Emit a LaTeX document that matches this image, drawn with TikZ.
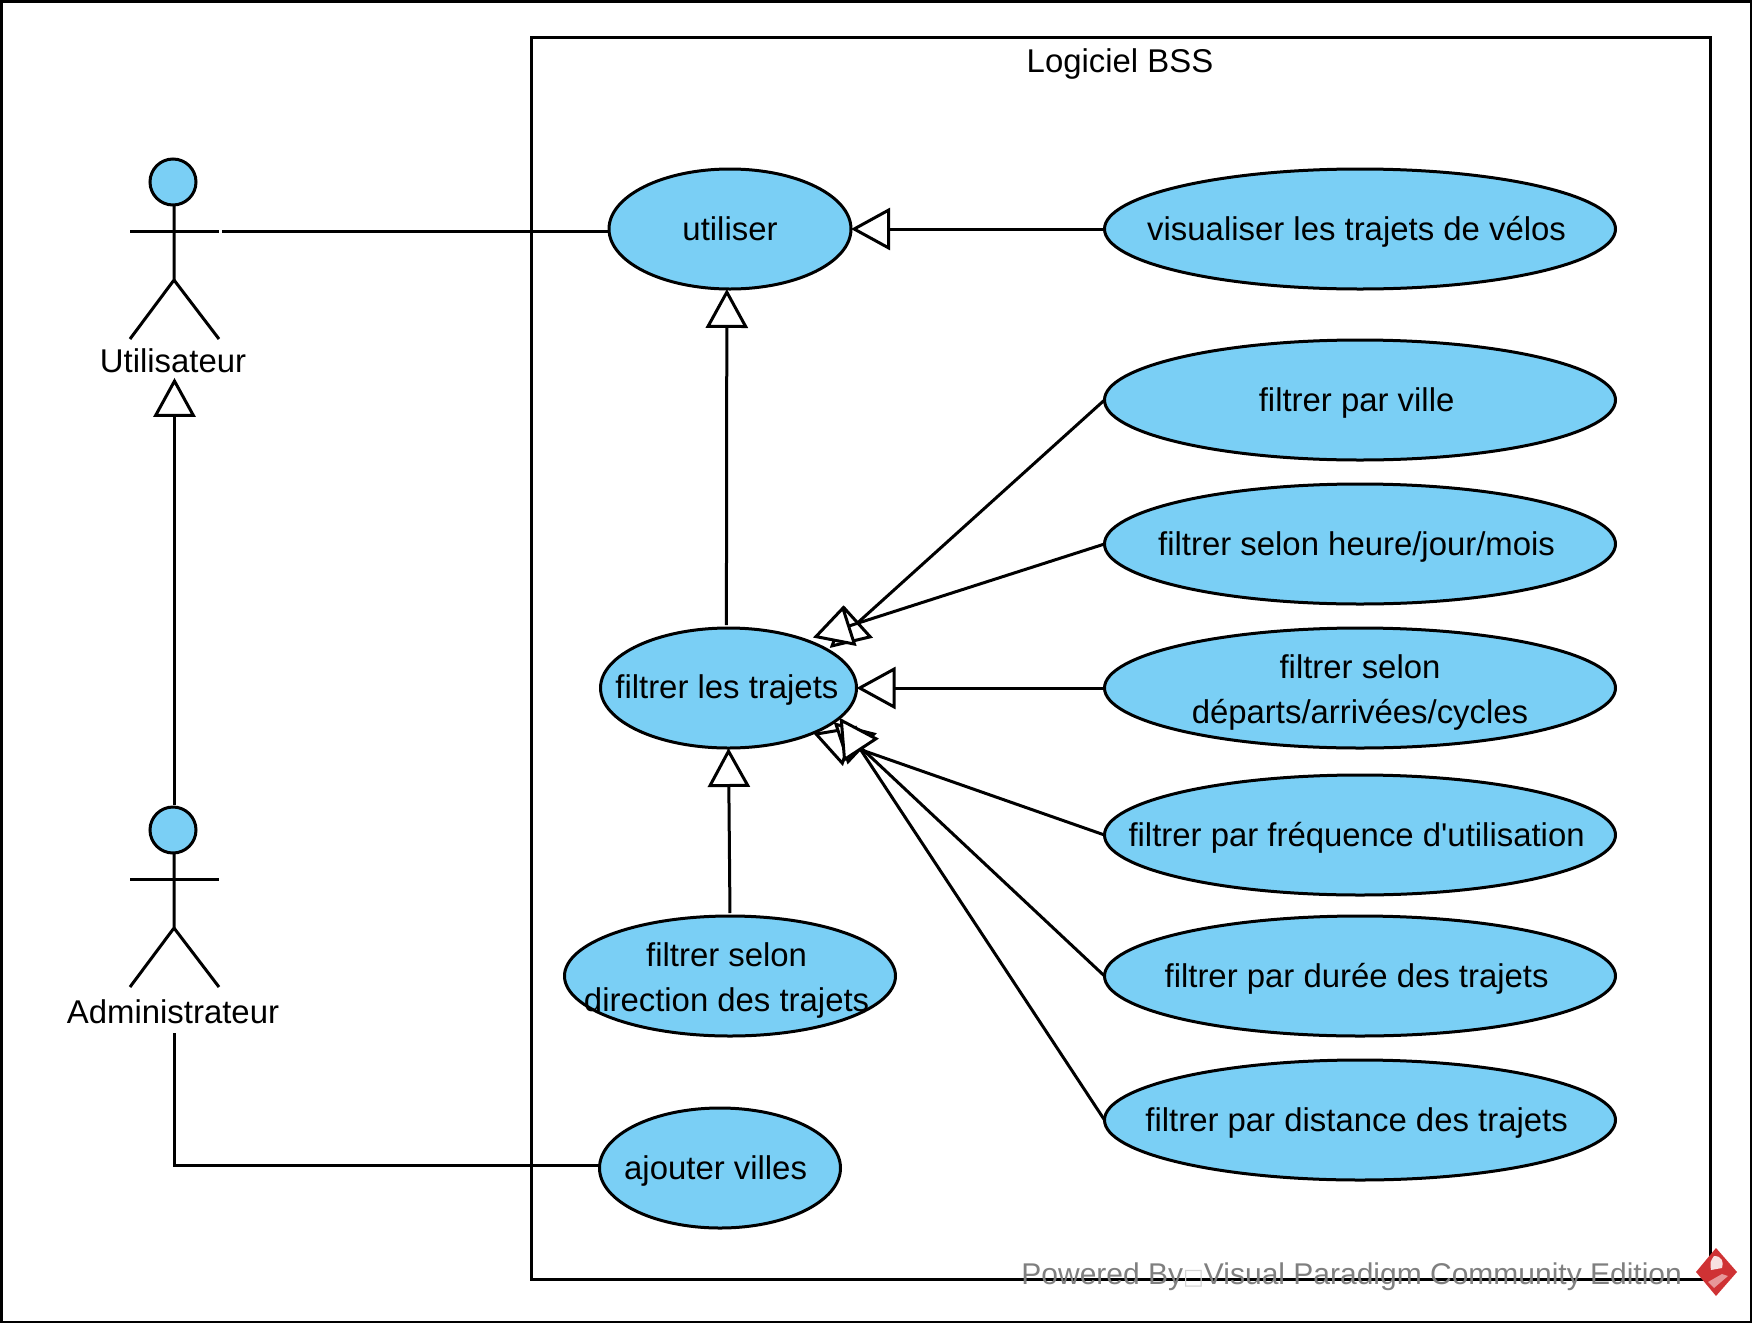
\documentclass[tikz,border=0pt]{standalone}
\usepackage{fontspec}
\setmainfont{Liberation Sans}
\newfontfamily\symfont{DejaVu Sans}
\newfontfamily\apostfont{Liberation Sans}
\usepackage{tikz}
\usetikzlibrary{arrows.meta,shapes.geometric}
\definecolor{ucblue}{HTML}{7ACFF5}
\definecolor{markgray}{HTML}{7F7F7F}
\definecolor{markred}{HTML}{CF3234}
\tikzset{
  ucase/.style={draw,ellipse,fill=ucblue,line width=1.5pt,inner sep=0pt,outer sep=0pt,
    minimum width=#1*0.5pt,minimum height=60pt},
  ucase/.default=511,
  uctext/.style={inner sep=0pt,align=center,font=\fontsize{16.45}{22.4}\selectfont},
  lft/.style={uctext,xshift=-1.7pt,yshift=-1.4pt},
  actorlabel/.style={inner sep=0pt,font=\fontsize{16.45}{20}\selectfont},
  gen/.style={line width=1.5pt,-{Triangle[fill=white,length=19.5pt,width=21pt,line width=1.5pt]}},
  assoc/.style={line width=1.5pt},
}
\begin{document}
\begin{tikzpicture}[x=0.5pt,y=-0.5pt]
    \useasboundingbox (0,0) rectangle (1752,1323);
    \draw [line width=1.5pt] (1,1) rectangle (1751,1322);
    \node [draw,rectangle,line width=1.5pt,inner sep=0pt,outer sep=0pt,minimum width=589.5pt,minimum height=621pt,anchor=north west] (system) at (531.5,37) {};
    \node [font=\fontsize{16.45}{20}\selectfont] (systemname) at (1120,64) {Logiciel BSS};

    % actors
    \foreach \px/\py in {173/182,173/830}{
      \draw [fill=ucblue,line width=1.5pt] (\px,\py) circle (11.5pt);
      \draw [line width=1.5pt] (\px+1,\py+23) -- (\px+1,\py+98) -- (\px-43,\py+157);
      \draw [line width=1.5pt] (\px+1,\py+98) -- (\px+46,\py+157);
      \draw [line width=1.5pt] (\px-43,\py+49) -- (\px+46,\py+49);
    }
    \node [actorlabel] (utilisateur) at (173,361) {Utilisateur};
    \node [actorlabel] (administrateur) at (173,1012) {Administrateur};
    \coordinate (utilHand) at (222,231);
    \coordinate (adminHead) at (174.5,805);
    \coordinate (adminCorner) at (174.5,1165);

    % use cases
    \node [ucase=242,label={[uctext]center:utiliser}] (utiliser) at (730,229) {};
    \node [ucase,label={[lft]center:visualiser les trajets de vélos}] (visualiser) at (1360,229) {};
    \node [ucase,label={[lft]center:filtrer par ville}] (ville) at (1360,400) {};
    \node [ucase,label={[lft]center:filtrer selon heure/jour/mois}] (heure) at (1360,544) {};
    \node [ucase,label={[uctext,yshift=-2.3pt]center:filtrer selon\\départs/arrivées/cycles}] (departs) at (1360,688) {};
    \node [ucase,label={[lft]center:filtrer par fréquence d{\apostfont'}utilisation}] (frequence) at (1360,835) {};
    \node [ucase,label={[lft]center:filtrer par durée des trajets}] (duree) at (1360,976) {};
    \node [ucase,label={[lft]center:filtrer par distance des trajets}] (distance) at (1360,1120) {};
    \node [ucase=256,label={[uctext,xshift=-0.8pt,yshift=-1.2pt]center:filtrer les trajets}] (trajets) at (728.5,688) {};
    \node [ucase=331,label={[lft,yshift=-0.9pt]center:filtrer selon\\direction des trajets}] (direction) at (730,976) {};
    \node [ucase=241,label={[lft,xshift=-0.5pt]center:ajouter villes}] (villes) at (720,1168) {};

    % connectors
    \draw [assoc] (utilHand) -- (utiliser.west |- utilHand);
    \draw [assoc,shorten <=4.4pt] (administrateur.south -| adminCorner) -- (adminCorner) -- (villes.west |- adminCorner);
    \draw [gen,shorten >=2.2pt] (adminHead) -- (utilisateur.south -| adminHead);
    \draw [gen] (visualiser) -- (utiliser);
    \draw [gen,shorten <=1.5pt] (trajets.92) -- (utiliser.267);
    \draw [gen,shorten <=1.5pt] (direction.north) -- (trajets.south);
    \draw [gen,shorten >=1.5pt] (ville.west) -- (trajets.21);
    \draw [gen,shorten >=4pt] (heure.west) -- (trajets.32);
    \draw [gen] (departs.west) -- (trajets.east);
    \draw [gen] (frequence.west) -- (trajets.-28);
    \draw [gen] (duree.west) -- (trajets.-18);
    \draw [gen] (distance.west) -- (trajets.-15);

    % watermark
    \node [inner sep=0pt,anchor=west,text=markgray,font=\fontsize{15}{16}\selectfont] (powered) at (1021,1277) {Powered By{\symfont\fontsize{11}{16}\selectfont\color{gray!35}□}Visual Paradigm Community Edition};
    \fill [markred] (1716,1248) -- (1737,1272) -- (1716,1296) -- (1696,1272) -- cycle;
    \fill [white,opacity=.85] (1714,1256) .. controls (1722,1256) and (1724,1262) .. (1722,1268) -- (1711,1270) .. controls (1710,1262) .. (1714,1256) -- cycle;
    \fill [white,opacity=.5] (1722,1274) -- (1728,1276) -- (1714,1288) -- (1708,1282) -- cycle;
\end{tikzpicture}
\end{document}
